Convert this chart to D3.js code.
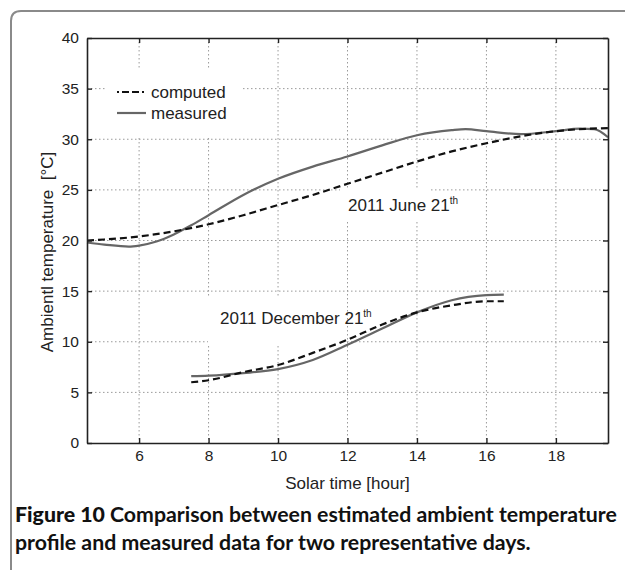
<!DOCTYPE html>
<html>
<head>
<meta charset="utf-8">
<script src="https://cdn.jsdelivr.net/npm/d3@7"></script>
<style>
  body { margin: 0; background: #fff; }
  svg { display: block; }
  .tick text { font-family: "Liberation Sans", Arial, sans-serif; font-size: 15.5px; fill: #222; }
</style>
</head>
<body>
<div id="chart"></div>
<script>
// hours of solar time and ambient temperature [°C]
var juneHours     = [4.5, 5, 5.7, 6, 6.5, 7, 7.5, 8, 9, 10, 11, 12, 13, 14, 15, 15.4, 16, 17, 18, 18.7, 19.1, 19.5];
var juneMeasured  = [19.8, 19.6, 19.4, 19.5, 19.9, 20.6, 21.5, 22.5, 24.5, 26.1, 27.3, 28.3, 29.4, 30.4, 30.9, 31.0, 30.8, 30.5, 30.8, 31.05, 31.0, 30.2];
var juneComputedHours = [4.5, 5, 6, 7, 8, 9, 10, 11, 12, 13, 14, 15, 16, 17, 18, 19, 19.5];
var juneComputed  = [20.0, 20.1, 20.4, 20.9, 21.6, 22.5, 23.5, 24.5, 25.6, 26.7, 27.8, 28.8, 29.6, 30.3, 30.8, 31.05, 31.1];

var decHours      = [7.5, 8, 9, 10, 11, 12, 13, 14, 15, 16, 16.5];
var decMeasured   = [6.6, 6.65, 6.9, 7.3, 8.2, 9.7, 11.3, 12.9, 14.1, 14.6, 14.65];
var decComputed   = [6.0, 6.2, 7.0, 7.7, 8.9, 10.2, 11.7, 12.9, 13.6, 14.0, 14.0];

var xTicks = [6, 8, 10, 12, 14, 16, 18];
var yTicks = [0, 5, 10, 15, 20, 25, 30, 35, 40];

var legendLabels = ["computed", "measured"];

document.addEventListener("DOMContentLoaded", function() {
    var w = 625, h = 570;
    var left = 87, right = 608, top = 38, bottom = 443;

    var svg = d3.select("#chart").append("svg")
        .attr("width", w)
        .attr("height", h);

    svg.append("rect").attr("width", w).attr("height", h).attr("fill", "#fff");

    // panel frame with rounded top-left corner
    svg.append("path")
        .attr("d", "M11,570 L11,21 Q11,11 21,11 L625,11")
        .attr("fill", "none")
        .attr("stroke", "#8a8a8a")
        .attr("stroke-width", 2);

    var x = d3.scaleLinear().domain([4.5, 19.5]).range([left, right]);
    var y = d3.scaleLinear().domain([0, 40]).range([bottom, top]);

    // dotted grid
    var grid = svg.append("g")
        .attr("stroke", "#9a9a9a")
        .attr("stroke-width", 1)
        .attr("stroke-dasharray", "1.5,2.5");
    grid.selectAll(".gx").data(xTicks).enter().append("line")
        .attr("x1", function(d) { return x(d); })
        .attr("x2", function(d) { return x(d); })
        .attr("y1", top).attr("y2", bottom);
    grid.selectAll(".gy").data(yTicks.slice(1, -1)).enter().append("line")
        .attr("y1", function(d) { return y(d); })
        .attr("y2", function(d) { return y(d); })
        .attr("x1", left).attr("x2", right);

    // white boxes behind legend and labels
    svg.append("rect").attr("x", 105).attr("y", 68).attr("width", 138).attr("height", 68).attr("fill", "#fff");
    svg.append("rect").attr("x", 340).attr("y", 188).attr("width", 90).attr("height", 34).attr("fill", "#fff");
    svg.append("rect").attr("x", 208).attr("y", 298).attr("width", 136).attr("height", 46).attr("fill", "#fff");

    var line = d3.line()
        .x(function(d) { return x(d[0]); })
        .y(function(d) { return y(d[1]); })
        .curve(d3.curveMonotoneX);

    function pairs(hs, vs) {
        return hs.map(function(hh, i) { return [hh, vs[i]]; });
    }

    var solid = { stroke: "#666", width: 2.2, dash: null };
    var dashed = { stroke: "#111", width: 2.2, dash: "7,4" };

    [[pairs(juneHours, juneMeasured), solid],
     [pairs(decHours, decMeasured), solid],
     [pairs(juneComputedHours, juneComputed), dashed],
     [pairs(decHours, decComputed), dashed]].forEach(function(s) {
        svg.append("path")
            .datum(s[0])
            .attr("d", line)
            .attr("fill", "none")
            .attr("stroke", s[1].stroke)
            .attr("stroke-width", s[1].width)
            .attr("stroke-dasharray", s[1].dash);
    });

    // axes, ticks pointing inward
    svg.append("g").attr("transform", "translate(0," + bottom + ")")
        .call(d3.axisBottom(x).tickValues(xTicks).tickSize(-5).tickSizeOuter(0).tickPadding(7));
    svg.append("g").attr("transform", "translate(0," + top + ")")
        .call(d3.axisTop(x).tickValues(xTicks).tickSize(-5).tickSizeOuter(0).tickFormat(""));
    svg.append("g").attr("transform", "translate(" + left + ",0)")
        .call(d3.axisLeft(y).tickValues(yTicks).tickSize(-5).tickSizeOuter(0).tickPadding(8));
    svg.append("g").attr("transform", "translate(" + right + ",0)")
        .call(d3.axisRight(y).tickValues(yTicks).tickSize(-5).tickSizeOuter(0).tickFormat(""));
    svg.selectAll(".domain").attr("stroke", "#222").attr("stroke-width", 1.6);
    svg.selectAll(".tick line").attr("stroke", "#222").attr("stroke-width", 1.4);

    var font = "'Liberation Sans', Arial, sans-serif";

    // legend
    var lg = svg.append("g").attr("font-family", font).attr("font-size", 17).attr("fill", "#222");
    legendLabels.forEach(function(lbl, i) {
        var yy = 92 + i * 21;
        lg.append("line")
            .attr("x1", 117).attr("x2", 146).attr("y1", yy).attr("y2", yy)
            .attr("stroke", i === 0 ? dashed.stroke : solid.stroke)
            .attr("stroke-width", 2.2)
            .attr("stroke-dasharray", i === 0 ? "2,3,7,3,7,3" : null);
        lg.append("text").attr("x", 151).attr("y", yy + 6).text(lbl);
    });

    // day labels
    function dayLabel(tx, ty, main) {
        var t = svg.append("text").attr("x", tx).attr("y", ty)
            .attr("font-family", font).attr("font-size", 17).attr("fill", "#222");
        t.append("tspan").text(main);
        t.append("tspan").attr("font-size", 10).attr("dy", -7).text("th");
    }
    dayLabel(348, 211, "2011 June 21");
    dayLabel(220, 324, "2011 December 21");

    // axis titles
    svg.append("text")
        .attr("x", (left + right) / 2).attr("y", 489)
        .attr("text-anchor", "middle")
        .attr("font-family", font).attr("font-size", 17).attr("fill", "#222")
        .text("Solar time [hour]");
    svg.append("text")
        .attr("transform", "translate(53,252) rotate(-90)")
        .attr("text-anchor", "middle")
        .attr("font-family", font).attr("font-size", 17).attr("fill", "#222")
        .attr("xml:space", "preserve")
        .text("Ambientl temperature  [°C]");

    // caption
    var cap = svg.append("g").attr("font-family", "Lato, 'Open Sans', sans-serif").attr("font-weight", 700).attr("fill", "#111");
    var c1 = cap.append("text").attr("x", 15).attr("y", 522);
    c1.append("tspan").attr("font-weight", 900).text("Figure 10 ");
    c1.append("tspan").text("Comparison between estimated ambient temperature");
    var c2 = cap.append("text").attr("x", 15).attr("y", 550)
        .text("profile and measured data for two representative days.");
    // fit caption to the panel width
    cap.attr("font-size", 20);
    var wid = c1.node().getComputedTextLength();
    cap.attr("font-size", 20 * 602 / wid);
});
</script>
</body>
</html>
